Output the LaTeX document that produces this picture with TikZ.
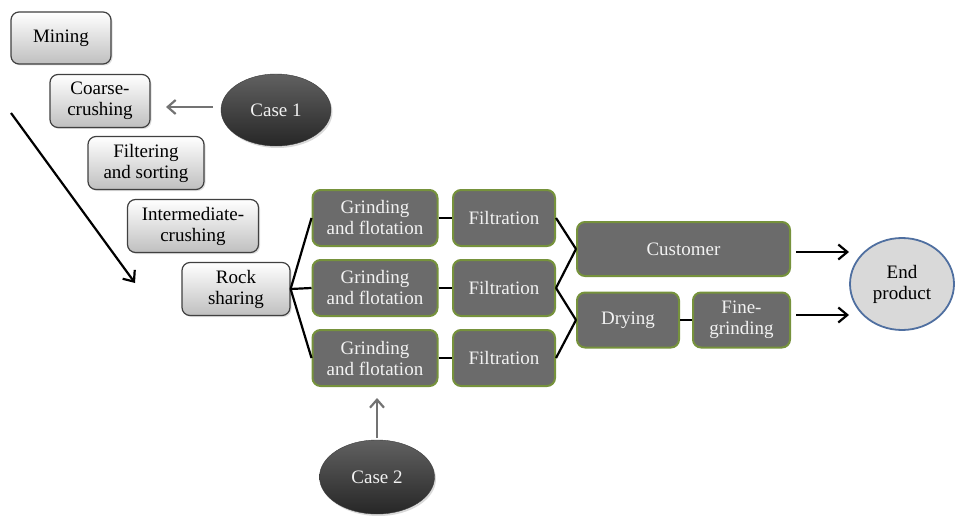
\documentclass[tikz,border=0pt]{standalone}
\usepackage{fontspec}
\setmainfont{Liberation Serif}
\usetikzlibrary{arrows.meta,shadows,shapes.geometric}
\definecolor{darkbox}{HTML}{6B6B6B}
\definecolor{greenedge}{HTML}{76923C}
\definecolor{caseedge}{HTML}{3A3A3A}
\definecolor{endfill}{HTML}{D9D9D9}
\definecolor{endedge}{HTML}{4F6FA0}
\tikzset{
  lightbox/.style={draw=black!75, line width=1.2pt, rounded corners=8pt,
    top color=white, bottom color=black!25, align=center, inner sep=0pt,
    drop shadow={opacity=0.25, shadow xshift=1.5pt, shadow yshift=-1.5pt},
    font=\fontsize{19}{21}\selectfont},
  darkbox/.style={draw=greenedge, line width=2pt, rounded corners=8pt,
    fill=darkbox, text=white!95!black, align=center, inner sep=0pt,
    font=\fontsize{19}{21}\selectfont},
  caseell/.style={ellipse, draw=caseedge, inner sep=0pt,
    top color=black!62, bottom color=black!85, text=white!95!black,
    drop shadow={opacity=0.3, shadow xshift=1.5pt, shadow yshift=-2pt},
    font=\fontsize{19}{21}\selectfont},
  endell/.style={ellipse, draw=endedge, line width=1.8pt, fill=endfill,
    inner sep=0pt, align=center, font=\fontsize{19}{21}\selectfont},
  conn/.style={line width=2.2pt, black},
  arr/.style={line width=2.2pt, -{Straight Barb[length=9pt,width=15pt,line width=2.2pt]}},
  grayarr/.style={line width=2.4pt, black!55, -{Straight Barb[length=8pt,width=14pt,line width=2.2pt]}}
}
\begin{document}
\begin{tikzpicture}[x=1pt,y=-1pt]
\useasboundingbox (0,0) rectangle (956,516);
% light boxes
\node[lightbox, minimum width=100, minimum height=52] (mining) at (61,38) {Mining};
\node[lightbox, minimum width=100, minimum height=53] (coarse) at (100,101) {Coarse-\\crushing};
\node[lightbox, minimum width=116, minimum height=53] (filter) at (146,163) {Filtering\\and sorting};
\node[lightbox, minimum width=131, minimum height=53] (inter) at (193,226) {Intermediate-\\crushing};
\node[lightbox, minimum width=108, minimum height=53] (rock) at (236,289) {Rock\\sharing};
% case ellipses
\node[caseell, minimum width=110, minimum height=72] (case1) at (276,110) {Case 1};
\node[caseell, minimum width=115, minimum height=74] (case2) at (377,477) {Case 2};
% dark boxes
\node[darkbox, minimum width=125, minimum height=56] (g1) at (375,218) {Grinding\\and flotation};
\node[darkbox, minimum width=125, minimum height=56] (g2) at (375,288) {Grinding\\and flotation};
\node[darkbox, minimum width=125, minimum height=56] (g3) at (375,358) {Grinding\\and flotation};
\node[darkbox, minimum width=102, minimum height=56] (f1) at (504,218) {Filtration};
\node[darkbox, minimum width=102, minimum height=56] (f2) at (504,288) {Filtration};
\node[darkbox, minimum width=102, minimum height=56] (f3) at (504,358) {Filtration};
\node[darkbox, minimum width=213, minimum height=54] (cust) at (683.5,249) {Customer};
\node[darkbox, minimum width=102, minimum height=55] (dry) at (628,320) {Drying};
\node[darkbox, minimum width=97, minimum height=55] (fine) at (741.5,320) {Fine-\\grinding};
% end product
\node[endell, minimum width=104, minimum height=92] (end) at (902,284) {End\\product};
% arrow anchors
\coordinate (d1) at (11,113);
\coordinate (d2) at (135,283);
\coordinate (c1s) at (213,107);
\coordinate (c1e) at (166,107);
\coordinate (c2s) at (377,438);
\coordinate (c2e) at (377,398);
\coordinate (a1s) at (796,252);
\coordinate (a1e) at (849,252);
\coordinate (a2s) at (796,315);
\coordinate (a2e) at (849,315);
% connectors
\draw[arr] (d1) -- (d2);
\draw[grayarr] (c1s) -- (c1e);
\draw[grayarr] (c2s) -- (c2e);
\draw[conn] (rock.east) -- (g1.west);
\draw[conn] (rock.east) -- (g2.west);
\draw[conn] (rock.east) -- (g3.west);
\draw[conn] (g1) -- (f1);
\draw[conn] (g2) -- (f2);
\draw[conn] (g3) -- (f3);
\draw[conn] (f1.east) -- (cust.west);
\draw[conn] (f2.east) -- (cust.west);
\draw[conn] (f2.east) -- (dry.west);
\draw[conn] (f3.east) -- (dry.west);
\draw[conn] (dry) -- (fine);
\draw[arr] (a1s) -- (a1e);
\draw[arr] (a2s) -- (a2e);
\end{tikzpicture}
\end{document}
